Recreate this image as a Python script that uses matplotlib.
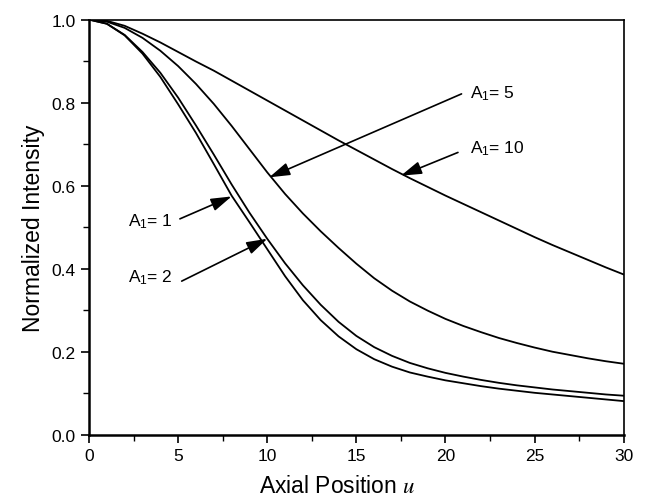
import matplotlib
matplotlib.use('Agg')
from matplotlib import pyplot as plt
from matplotlib.ticker import MultipleLocator

plt.rcParams['font.family'] = ['Liberation Sans', 'DejaVu Sans']
plt.rcParams['mathtext.fontset'] = 'stix'

# axial position u and normalized intensity for each A1
u = list(range(0, 31))

a1_1 = [1.0, 0.99, 0.962, 0.918, 0.862, 0.796, 0.727, 0.652, 0.576, 0.512,
        0.447, 0.382, 0.324, 0.276, 0.237, 0.206, 0.182, 0.164, 0.150, 0.140,
        0.131, 0.124, 0.117, 0.111, 0.106, 0.101, 0.097, 0.093, 0.089, 0.085,
        0.081]
a1_2 = [1.0, 0.99, 0.963, 0.922, 0.872, 0.812, 0.745, 0.675, 0.603, 0.535,
        0.472, 0.413, 0.360, 0.313, 0.272, 0.238, 0.211, 0.190, 0.173, 0.160,
        0.149, 0.140, 0.132, 0.125, 0.119, 0.114, 0.109, 0.105, 0.101, 0.097,
        0.094]
a1_5 = [1.0, 0.995, 0.980, 0.956, 0.925, 0.888, 0.845, 0.797, 0.744, 0.688,
        0.632, 0.580, 0.533, 0.490, 0.450, 0.412, 0.377, 0.347, 0.321, 0.299,
        0.279, 0.262, 0.247, 0.233, 0.221, 0.210, 0.200, 0.192, 0.184, 0.177,
        0.171]
a1_10 = [1.0, 0.997, 0.985, 0.966, 0.945, 0.922, 0.899, 0.877, 0.853, 0.829,
         0.805, 0.781, 0.757, 0.733, 0.709, 0.686, 0.663, 0.640, 0.618, 0.597,
         0.576, 0.556, 0.536, 0.516, 0.496, 0.476, 0.457, 0.439, 0.421, 0.403,
         0.386]

# label text, label position, arrow tail, arrow tip
labels = ['$\\mathregular{A_1}$= 1', '$\\mathregular{A_1}$= 2',
          '$\\mathregular{A_1}$= 5', '$\\mathregular{A_1}$= 10']
label_xy = [(4.7, 0.515), (4.7, 0.38), (21.4, 0.823), (21.4, 0.691)]
label_ha = ['right', 'right', 'left', 'left']
tails = [(5.1, 0.52), (5.2, 0.37), (20.9, 0.821), (20.7, 0.68)]
tips = [(8.0, 0.574), (10.0, 0.472), (10.11, 0.620), (17.5, 0.624)]

fig = plt.figure(figsize=(6.45, 5.02), dpi=100)
ax = fig.add_axes([0.138, 0.132, 0.829, 0.827])

for ys in [a1_1, a1_2, a1_5, a1_10]:
    ax.plot(u, ys, color='black', lw=1.3)

for txt, xy, ha, tail, tip in zip(labels, label_xy, label_ha, tails, tips):
    ax.text(xy[0], xy[1], txt, ha=ha, va='center', fontsize=12.5)
    ax.annotate('', xy=tip, xytext=tail,
                arrowprops=dict(arrowstyle='-|>,head_length=0.9,head_width=0.28',
                                color='black', lw=1.2, mutation_scale=14,
                                shrinkA=0, shrinkB=0))

ax.set_xlim(0, 30)
ax.set_ylim(0, 1.0)
ax.xaxis.set_major_locator(MultipleLocator(5))
ax.xaxis.set_minor_locator(MultipleLocator(2.5))
ax.yaxis.set_major_locator(MultipleLocator(0.2))
ax.yaxis.set_minor_locator(MultipleLocator(0.1))
ax.yaxis.set_major_formatter(plt.FormatStrFormatter('%.1f'))
ax.tick_params(which='major', direction='out', length=6, width=1.2, labelsize=12.5)
ax.tick_params(which='minor', direction='out', length=4, width=1.0)
ax.tick_params(top=False, right=False, which='both')

for side in ['left', 'bottom']:
    ax.spines[side].set_linewidth(1.8)
for side in ['top', 'right']:
    ax.spines[side].set_linewidth(1.2)

ax.set_xlabel('Axial Position $\\it{u}$', fontsize=16.5, labelpad=8, x=0.465)
ax.set_ylabel('Normalized Intensity', fontsize=16.5, labelpad=5)

fig.savefig('out.png', dpi=100)
